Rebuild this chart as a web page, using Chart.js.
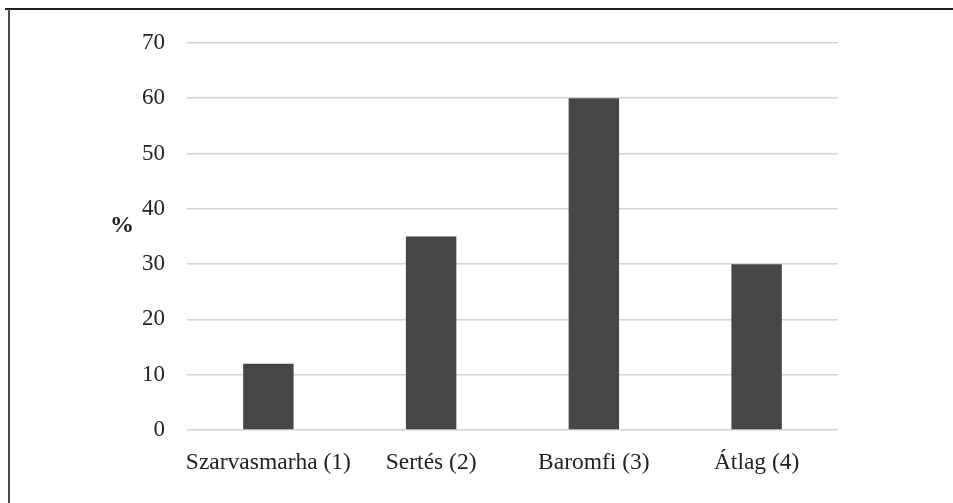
<!DOCTYPE html>
<html>
<head>
<meta charset="utf-8">
<script src="https://cdn.jsdelivr.net/npm/chart.js@4/dist/chart.umd.min.js"></script>
<style>
  html, body { margin: 0; padding: 0; background: #ffffff; }
  #wrap { width: 953px; height: 503px; position: relative; }
</style>
</head>
<body>
<div id="wrap"><canvas id="c" width="953" height="503"></canvas></div>
<script>
// Categories and their shares (%)
const categories = ['Szarvasmarha (1)', 'Sertés (2)', 'Baromfi (3)', 'Átlag (4)'];
const shares = [12, 35, 60, 30];
const yTicks = [0, 10, 20, 30, 40, 50, 60, 70];
const yUnit = '%';

const serif = '"Liberation Serif", "Times New Roman", serif';

// Frame lines and the unit label beside the value axis
const decorations = {
  id: 'decorations',
  afterDraw(chart) {
    const ctx = chart.ctx;
    ctx.save();
    ctx.strokeStyle = '#1e1e1e';
    ctx.lineWidth = 2;
    ctx.beginPath();
    ctx.moveTo(5, 9);
    ctx.lineTo(953, 9);
    ctx.stroke();
    ctx.strokeStyle = '#4a4a4a';
    ctx.beginPath();
    ctx.moveTo(9, 9);
    ctx.lineTo(9, 503);
    ctx.stroke();

    const y = chart.scales.y;
    ctx.fillStyle = '#222222';
    ctx.font = 'bold 24px ' + serif;
    ctx.textAlign = 'center';
    ctx.textBaseline = 'middle';
    ctx.fillText(yUnit, 122, (y.getPixelForValue(40) + y.getPixelForValue(30)) / 2 - 11);
    ctx.restore();
  }
};

new Chart(document.getElementById('c'), {
  type: 'bar',
  data: {
    labels: categories,
    datasets: [{
      data: shares,
      backgroundColor: '#464646',
      borderWidth: 0,
      categoryPercentage: 1,
      barPercentage: 0.31
    }]
  },
  options: {
    responsive: false,
    animation: false,
    layout: { padding: { left: 0, right: 115, top: 43, bottom: 0 } },
    plugins: {
      legend: { display: false },
      tooltip: { enabled: false }
    },
    scales: {
      x: {
        grid: { display: false },
        border: { display: false },
        ticks: {
          color: '#222222',
          font: { family: serif, size: 23.5 },
          padding: 11,
          maxRotation: 0,
          autoSkip: false
        },
        afterFit(scale) { scale.height = 73; }
      },
      y: {
        min: 0,
        max: 70,
        afterBuildTicks(scale) { scale.ticks = yTicks.map(v => ({ value: v })); },
        grid: { color: '#d4d4d4', lineWidth: 1.6, drawTicks: false },
        border: { display: false },
        ticks: {
          color: '#222222',
          font: { family: serif, size: 23 },
          padding: 22
        },
        afterFit(scale) { scale.width = 187; }
      }
    }
  },
  plugins: [decorations]
});
</script>
</body>
</html>
